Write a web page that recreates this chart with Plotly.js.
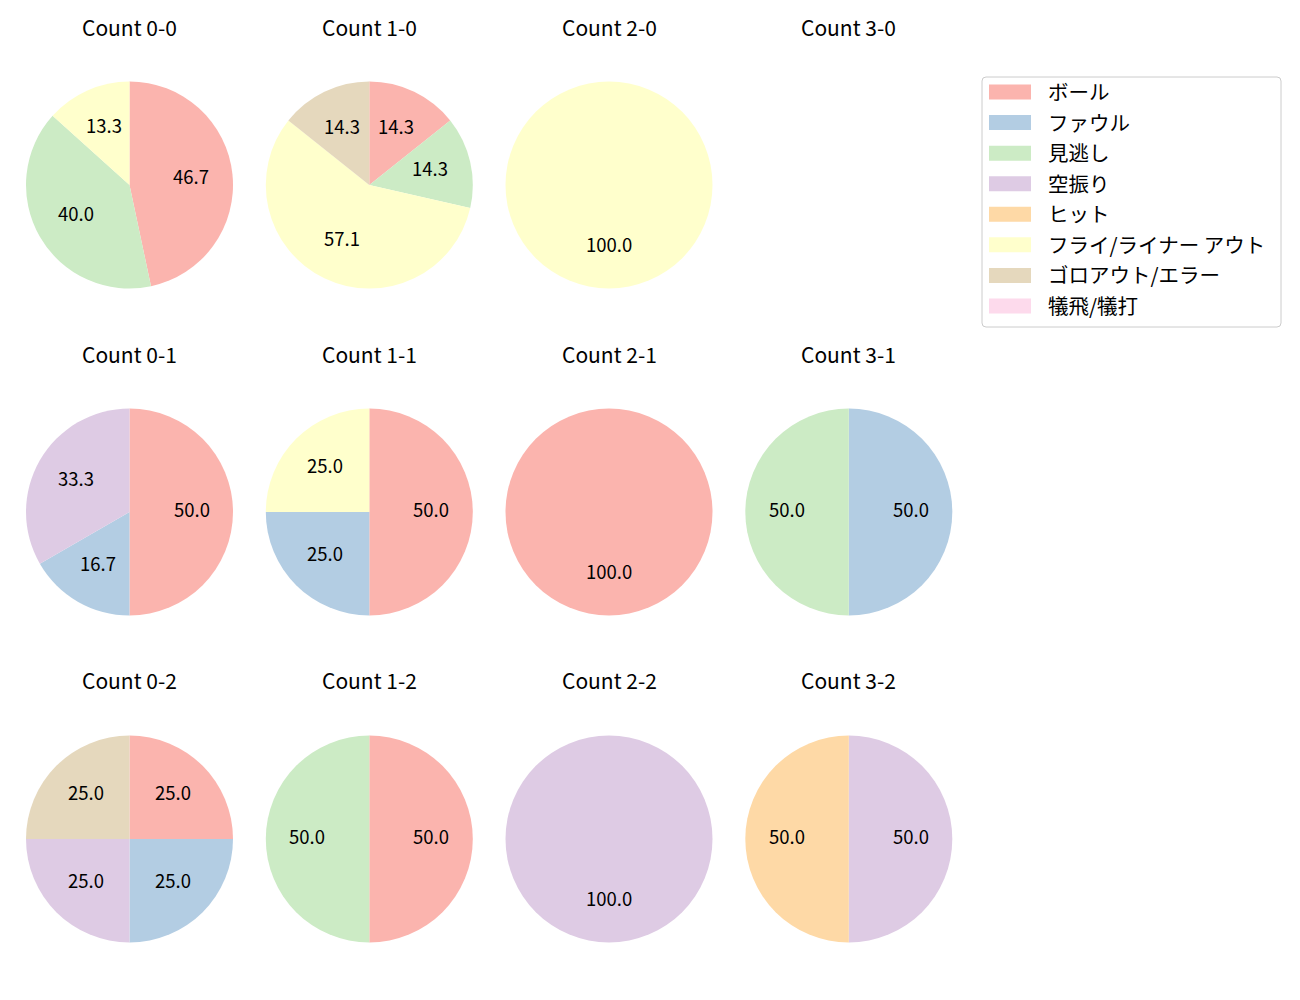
<!DOCTYPE html>
<html>
<head>
<meta charset="utf-8">
<script src="https://cdn.plot.ly/plotly-3.0.1.min.js"></script>
<style>html,body{margin:0;padding:0;background:#fff;}</style>
</head>
<body>
<div id="chart" style="width:1300px;height:1000px;"></div>
<script>
// ---- data ----
const categories = ['ボール','ファウル','見逃し','空振り','ヒット','フライ/ライナー アウト','ゴロアウト/エラー','犠飛/犠打'];
const colors = ['#fbb4ae','#b3cde3','#ccebc5','#decbe4','#fed9a6','#ffffcc','#e5d8bd','#fddaec'];
const countTitles = [
  ['Count 0-0','Count 1-0','Count 2-0','Count 3-0'],
  ['Count 0-1','Count 1-1','Count 2-1','Count 3-1'],
  ['Count 0-2','Count 1-2','Count 2-2','Count 3-2']
];
const c00 = [7,0,6,0,0,2,0,0];
const c10 = [1,0,1,0,0,4,1,0];
const c20 = [0,0,0,0,0,1,0,0];
const c30 = [0,0,0,0,0,0,0,0];
const c01 = [3,1,0,2,0,0,0,0];
const c11 = [2,1,0,0,0,1,0,0];
const c21 = [1,0,0,0,0,0,0,0];
const c31 = [0,1,1,0,0,0,0,0];
const c02 = [1,1,0,1,0,0,1,0];
const c12 = [1,0,1,0,0,0,0,0];
const c22 = [0,0,0,1,0,0,0,0];
const c32 = [0,0,0,1,1,0,0,0];
const grid = [[c00,c10,c20,c30],[c01,c11,c21,c31],[c02,c12,c22,c32]];

// ---- layout geometry (pixels) ----
const W = 1300, H = 1000;
const colX = [129.5, 369.3, 609, 848.8];
const rowY = [185, 512, 839];
const titleY = [29, 356, 682];
const R = 103.5;
const FONT = '"Noto Sans CJK JP", "Noto Sans", sans-serif';

const traces = [];
const annotations = [];
const shapes = [];

for (let r = 0; r < 3; r++) {
  for (let c = 0; c < 4; c++) {
    const vals = grid[r][c];
    const cx = colX[c], cy = rowY[r];
    annotations.push({
      text: countTitles[r][c], x: cx / W, y: 1 - titleY[r] / H, yshift: 2,
      xref: 'paper', yref: 'paper', xanchor: 'center', yanchor: 'middle',
      showarrow: false, font: {family: FONT, size: 21, color: '#000'}
    });
    const labs = [], vs = [], cols = [];
    vals.forEach((v, i) => { if (v > 0) { labs.push(categories[i]); vs.push(v); cols.push(colors[i]); } });
    const total = vs.reduce((a, b) => a + b, 0);
    if (total === 0) continue;
    traces.push({
      type: 'pie', labels: labs, values: vs, sort: false, direction: 'clockwise', rotation: 0,
      marker: {colors: cols, line: {width: 0}}, textinfo: 'none', hoverinfo: 'label+percent',
      showlegend: false,
      domain: {x: [(cx - R) / W, (cx + R) / W], y: [1 - (cy + R) / H, 1 - (cy - R) / H]}
    });
    let cum = 0;
    vs.forEach(v => {
      const mid = (90 - 360 * (cum + v / 2) / total) * Math.PI / 180;
      cum += v;
      const px = cx + 0.6 * R * Math.cos(mid);
      const py = cy - 0.6 * R * Math.sin(mid);
      annotations.push({
        text: (100 * v / total).toFixed(1), x: px / W, y: 1 - py / H, yshift: 3,
        xref: 'paper', yref: 'paper', xanchor: 'center', yanchor: 'middle',
        showarrow: false, font: {family: FONT, size: 18.5, color: '#000'}
      });
    });
  }
}

// ---- legend (drawn from categories/colors) ----
const L = {x0: 982, x1: 1281, y0: 77, y1: 327, rad: 4};
const toX = p => p / W, toY = p => 1 - p / H;
shapes.push({
  type: 'path', xref: 'paper', yref: 'paper',
  path: `M ${toX(L.x0 + L.rad)} ${toY(L.y0)} L ${toX(L.x1 - L.rad)} ${toY(L.y0)} Q ${toX(L.x1)} ${toY(L.y0)} ${toX(L.x1)} ${toY(L.y0 + L.rad)} L ${toX(L.x1)} ${toY(L.y1 - L.rad)} Q ${toX(L.x1)} ${toY(L.y1)} ${toX(L.x1 - L.rad)} ${toY(L.y1)} L ${toX(L.x0 + L.rad)} ${toY(L.y1)} Q ${toX(L.x0)} ${toY(L.y1)} ${toX(L.x0)} ${toY(L.y1 - L.rad)} L ${toX(L.x0)} ${toY(L.y0 + L.rad)} Q ${toX(L.x0)} ${toY(L.y0)} ${toX(L.x0 + L.rad)} ${toY(L.y0)} Z`,
  line: {color: '#cccccc', width: 1}, fillcolor: 'rgba(255,255,255,0.8)'
});
categories.forEach((name, i) => {
  const yc = 92 + i * 30.57;
  shapes.push({
    type: 'rect', xref: 'paper', yref: 'paper',
    x0: toX(989), x1: toX(1031), y0: toY(yc + 7.5), y1: toY(yc - 7.5),
    line: {width: 0}, fillcolor: colors[i]
  });
  annotations.push({
    text: name, x: toX(1046), y: toY(yc), yshift: 1, xref: 'paper', yref: 'paper',
    xanchor: 'left', yanchor: 'middle', showarrow: false,
    font: {family: FONT, size: 20.5, color: '#000'}
  });
});

const layout = {
  width: W, height: H, margin: {l: 0, r: 0, t: 0, b: 0},
  paper_bgcolor: '#ffffff', plot_bgcolor: '#ffffff',
  showlegend: false, annotations: annotations, shapes: shapes,
  font: {family: FONT}
};
Plotly.newPlot('chart', traces, layout, {displayModeBar: false, staticPlot: true});
</script>
</body>
</html>
